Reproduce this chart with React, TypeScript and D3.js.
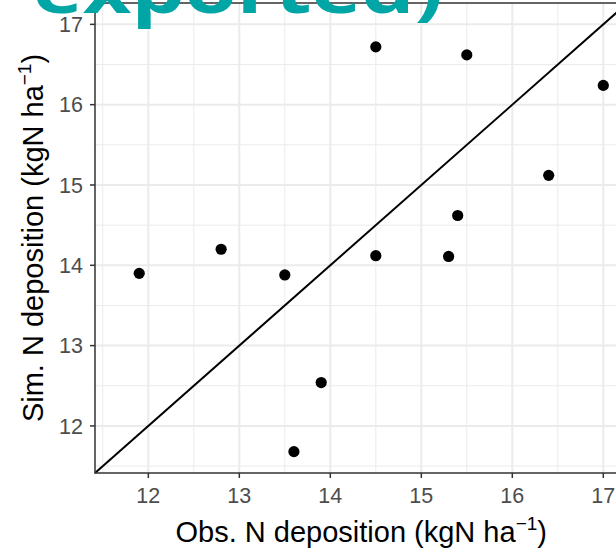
import React, { useRef, useEffect } from 'react'
import * as d3 from 'd3'

const obsN = [11.9, 12.8, 13.5, 13.6, 13.9, 14.5, 14.5, 15.3, 15.4, 15.5, 16.4, 17.0]
const simN = [13.9, 14.2, 13.88, 11.68, 12.54, 16.72, 14.12, 14.11, 14.62, 16.62, 15.12, 16.24]
const xTicks = [12, 13, 14, 15, 16, 17]
const yTicks = [12, 13, 14, 15, 16, 17]
const minorBreaks = [11.5, 12.5, 13.5, 14.5, 15.5, 16.5]

const W = 616
const H = 552
const panel = { left: 95, top: 3, right: 627.5, bottom: 473 }

export default function App() {
  const gRef = useRef<SVGGElement>(null)

  useEffect(() => {
    const g = d3.select(gRef.current)
    g.selectAll('*').remove()

    // same limits on both axes, ggplot style 5% expansion
    const all = obsN.concat(simN)
    const lo = d3.min(all) as number
    const hi = d3.max(all) as number
    const pad = (hi - lo) * 0.05
    const dom: [number, number] = [lo - pad, hi + pad]

    const x = d3.scaleLinear().domain(dom).range([panel.left, panel.right])
    const y = d3.scaleLinear().domain(dom).range([panel.bottom, panel.top])

    const pw = panel.right - panel.left
    const ph = panel.bottom - panel.top

    g.append('rect')
      .attr('x', panel.left).attr('y', panel.top)
      .attr('width', pw).attr('height', ph)
      .attr('fill', 'white')

    // minor grid
    const grid = g.append('g')
    minorBreaks.forEach(v => {
      grid.append('line').attr('x1', x(v)).attr('x2', x(v)).attr('y1', panel.top).attr('y2', panel.bottom)
        .attr('stroke', '#EBEBEB').attr('stroke-width', 1)
      grid.append('line').attr('y1', y(v)).attr('y2', y(v)).attr('x1', panel.left).attr('x2', panel.right)
        .attr('stroke', '#EBEBEB').attr('stroke-width', 1)
    })
    // major grid
    xTicks.forEach(v => {
      grid.append('line').attr('x1', x(v)).attr('x2', x(v)).attr('y1', panel.top).attr('y2', panel.bottom)
        .attr('stroke', '#EBEBEB').attr('stroke-width', 2)
    })
    yTicks.forEach(v => {
      grid.append('line').attr('y1', y(v)).attr('y2', y(v)).attr('x1', panel.left).attr('x2', panel.right)
        .attr('stroke', '#EBEBEB').attr('stroke-width', 2)
    })

    // 1:1 line
    g.append('line')
      .attr('x1', x(dom[0])).attr('y1', y(dom[0]))
      .attr('x2', x(dom[1])).attr('y2', y(dom[1]))
      .attr('stroke', 'black').attr('stroke-width', 2)

    // points
    g.append('g')
      .selectAll('circle')
      .data(obsN.map((o, i) => ({ o, s: simN[i] })))
      .join('circle')
      .attr('cx', d => x(d.o))
      .attr('cy', d => y(d.s))
      .attr('r', 5.6)
      .attr('fill', 'black')

    // panel border
    g.append('rect')
      .attr('x', panel.left).attr('y', panel.top)
      .attr('width', pw).attr('height', ph)
      .attr('fill', 'none').attr('stroke', '#333333').attr('stroke-width', 1.5)

    // ticks + labels
    const tickCol = '#333333'
    const labCol = '#4D4D4D'
    xTicks.forEach(v => {
      g.append('line').attr('x1', x(v)).attr('x2', x(v)).attr('y1', panel.bottom).attr('y2', panel.bottom + 5)
        .attr('stroke', tickCol).attr('stroke-width', 1.5)
      g.append('text').attr('x', x(v)).attr('y', 503)
        .attr('text-anchor', 'middle').attr('fill', labCol)
        .style('font-size', '21.5px')
        .text(v)
    })
    yTicks.forEach(v => {
      g.append('line').attr('x1', panel.left - 5).attr('x2', panel.left).attr('y1', y(v)).attr('y2', y(v))
        .attr('stroke', tickCol).attr('stroke-width', 1.5)
      g.append('text').attr('x', 83).attr('y', y(v)).attr('dy', '0.36em')
        .attr('text-anchor', 'end').attr('fill', labCol)
        .style('font-size', '21.5px')
        .text(v)
    })

    // axis titles with superscript
    function title(sel: any, lead: string) {
      sel.append('tspan').text(lead + ' N deposition (kgN ha')
      sel.append('tspan').attr('dy', -12).style('font-size', '19px').text('\u22121')
      sel.append('tspan').attr('dy', 12).text(')')
    }
    const xt = g.append('text')
      .attr('x', (panel.left + panel.right) / 2).attr('y', 542)
      .attr('text-anchor', 'middle').attr('fill', 'black')
      .style('font-size', '29px')
    title(xt, 'Obs.')

    const yt = g.append('text')
      .attr('transform', `translate(43,${(panel.top + panel.bottom) / 2}) rotate(-90)`)
      .attr('text-anchor', 'middle').attr('fill', 'black')
      .style('font-size', '29px')
    title(yt, 'Sim.')

    // stray overlay text cropped at the top of the picture
    g.append('text')
      .attr('x', 33).attr('y', 13)
      .attr('fill', '#00A6A6')
      .attr('textLength', 410).attr('lengthAdjust', 'spacingAndGlyphs')
      .style('font-family', '"Open Sans", sans-serif')
      .style('font-weight', 700)
      .style('font-size', '66px')
      .text('exported)')
  }, [])

  return (
    <svg
      width={W}
      height={H}
      viewBox={`0 0 ${W} ${H}`}
      style={{ position: 'absolute', left: 0, top: 0, background: 'white', fontFamily: '"Liberation Sans", Arial, sans-serif' }}>
      <g ref={gRef}></g>
    </svg>
  )
}
